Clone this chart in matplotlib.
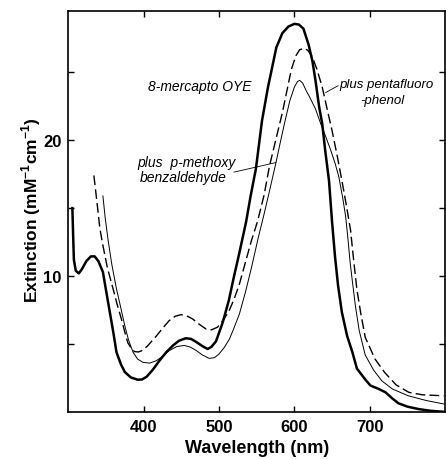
import matplotlib
matplotlib.use('Agg')
import matplotlib.pyplot as plt

plt.rcParams['font.family'] = ['Liberation Sans', 'DejaVu Sans']
plt.rcParams['mathtext.fontset'] = 'custom'
plt.rcParams['mathtext.bf'] = 'Liberation Sans:bold'
plt.rcParams['mathtext.rm'] = 'Liberation Sans:bold'

# 8-mercapto OYE (thick solid)
oye_x = [305.5, 306.5, 307.5, 310, 314, 318, 324, 330, 335, 340, 346, 350, 355, 360, 364,
         370, 375, 383, 392, 398, 404, 412, 421, 430, 439, 447, 456, 463, 470, 478, 485,
         490, 496, 505, 513, 520, 527, 536, 542, 549, 557, 565, 570, 576, 584, 592, 600,
         606, 612, 619, 624, 628, 633, 637, 641, 646, 650, 654, 658, 663, 670, 677, 683,
         694, 701, 712, 721, 730, 738, 750, 765, 780, 798]
oye_y = [15.0, 13.0, 11.2, 10.4, 10.2, 10.5, 11.1, 11.45, 11.45, 11.1, 10.3, 9.0, 7.4, 5.8, 4.4,
         3.5, 2.95, 2.55, 2.38, 2.4, 2.6, 3.1, 3.78, 4.4, 4.9, 5.25, 5.43, 5.38, 5.15, 4.85, 4.64,
         4.8, 5.2, 6.6, 8.2, 10.0, 11.7, 14.0, 15.9, 17.9, 21.4, 23.9, 25.2, 26.8, 27.86, 28.35, 28.55,
         28.5, 28.2, 27.0, 25.8, 24.4, 22.4, 21.2, 19.2, 17.0, 14.0, 11.4, 9.3, 7.35, 5.6, 4.4, 3.2,
         2.4, 1.95, 1.7, 1.45, 1.0, 0.65, 0.4, 0.22, 0.1, 0.02]

# plus pentafluorophenol (dashed)
pfp_x = [334, 338, 342, 346, 352, 359.5, 365, 370.5, 375, 379, 384, 388, 393, 397, 405,
         417, 425, 434, 442, 450, 458, 465, 474, 483, 490, 498, 506, 513, 520, 527, 535,
         543, 551, 560, 567, 577, 584, 590, 596, 602, 607, 613, 618, 624, 630, 637, 643,
         650, 657, 663, 669, 674.5, 679, 683, 688, 694, 707, 720, 735, 752, 770, 798]
pfp_y = [17.4, 15.5, 13.5, 12.25, 10.6, 9.06, 7.9, 6.85, 5.9, 5.1, 4.65, 4.45, 4.42, 4.5, 4.85,
         5.6, 6.15, 6.73, 7.05, 7.17, 7.05, 6.85, 6.45, 6.1, 6.05, 6.24, 6.8, 7.4, 8.3, 9.4, 11.0,
         12.6, 14.0, 16.0, 18.1, 20.4, 22.0, 23.6, 25.2, 26.2, 26.65, 26.75, 26.6, 26.1, 25.2, 23.9, 22.4,
         20.7, 18.8, 17.05, 15.2, 13.4, 11.0, 9.0, 7.3, 5.5, 3.9, 2.9, 2.0, 1.45, 1.27, 1.2]

# plus p-methoxybenzaldehyde (thin solid)
pmb_x = [346, 349, 353, 358, 364, 370, 375, 380, 386, 392, 399, 408, 417, 425, 434,
         444, 454, 462, 470, 478, 487, 494, 500, 507, 514, 520, 527, 535, 543, 552, 560,
         568, 575, 582, 588, 594, 600, 604, 607, 611, 616, 620, 628, 635, 642, 648, 654,
         659, 664, 668, 671, 674, 677, 681, 686, 694, 705, 716, 730, 751, 775, 798]
pmb_y = [15.9, 14.3, 12.6, 10.8, 9.06, 7.6, 6.36, 5.3, 4.4, 3.9, 3.66, 3.6, 3.78, 4.1, 4.52,
         4.82, 4.9, 4.78, 4.52, 4.2, 3.95, 4.0, 4.27, 4.75, 5.38, 6.2, 7.2, 8.8, 10.6, 12.8, 14.6,
         16.5, 18.2, 20.0, 21.5, 22.9, 23.9, 24.3, 24.4, 24.2, 23.6, 23.2, 22.3, 21.2, 20.2, 19.3, 18.3,
         17.3, 15.8, 14.4, 12.8, 11.0, 9.6, 7.8, 6.0, 4.2, 3.1, 2.3, 1.7, 1.2, 0.85, 0.6]

x_ticks = [400, 500, 600, 700]
y_ticks = [5, 10, 15, 20, 25]
y_ticklabels = ['', '10', '', '20', '']

fig = plt.figure(figsize=(4.46, 4.60), dpi=100)
ax = fig.add_axes([0.153, 0.102, 0.845, 0.872])

ax.plot(oye_x, oye_y, color='black', lw=1.8)
ax.plot(pfp_x, pfp_y, color='black', lw=1.0, dashes=(7, 3))
ax.plot(pmb_x, pmb_y, color='black', lw=0.7)

ax.set_xlim(300, 800)
ax.set_ylim(0, 29.5)
ax.set_xticks(x_ticks)
ax.set_yticks(y_ticks)
ax.set_yticklabels(y_ticklabels)
ax.tick_params(direction='in', length=4, width=1, top=True, right=True,
               labelsize=12, pad=5)
for lab in ax.get_xticklabels() + ax.get_yticklabels():
    lab.set_fontweight('bold')
for sp in ax.spines.values():
    sp.set_linewidth(1.2)

# annotations
ax.text(474, 23.95, '8-mercapto OYE', fontsize=10, style='italic', ha='center', va='center')
ax.text(660, 24.1, 'plus pentafluoro', fontsize=9.5, style='italic', ha='left', va='center')
ax.text(688, 22.95, '-phenol', fontsize=9.5, style='italic', ha='left', va='center')
ax.plot([641.5, 658], [23.5, 24.0], color='black', lw=0.6)
ax.text(392, 18.4, 'plus  p-methoxy', fontsize=10, style='italic', ha='left', va='center')
ax.text(395, 17.3, 'benzaldehyde', fontsize=10, style='italic', ha='left', va='center')
ax.plot([520, 575.5], [17.65, 18.35], color='black', lw=0.6)

fig.text(0.576, 0.024, 'Wavelength (nm)', fontsize=13, fontweight='bold', ha='center', va='center')
fig.text(0.07, 0.543, 'Extinction (mM$^{\\mathbf{-1}}$cm$^{\\mathbf{-1}}$)', fontsize=12.5,
         fontweight='bold', rotation=90, ha='center', va='center')

fig.savefig('out.png', dpi=100)
